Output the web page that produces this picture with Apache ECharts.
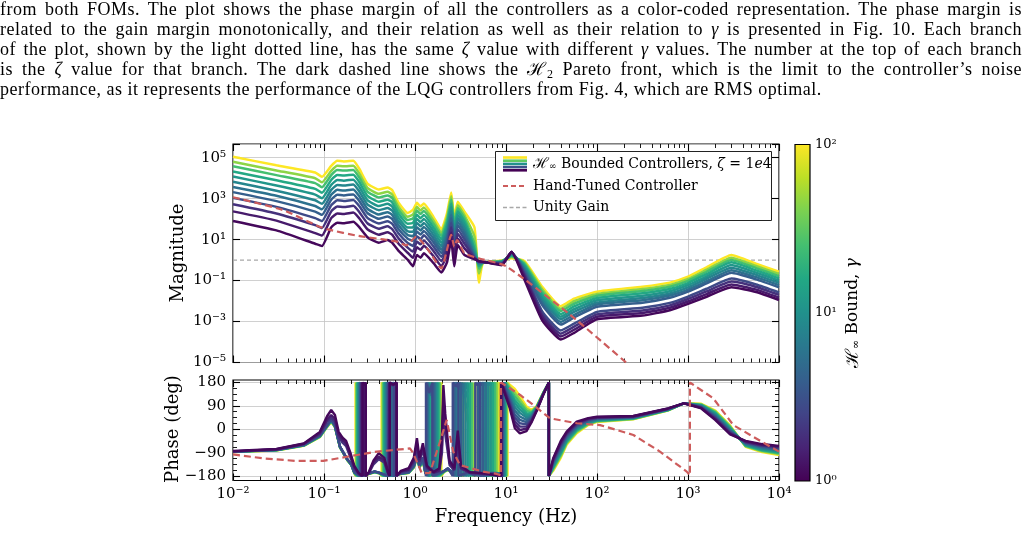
<!DOCTYPE html>
<html>
<head>
<meta charset="utf-8">
<script src="https://cdn.jsdelivr.net/npm/echarts@6.0.0/dist/echarts.min.js"></script>
<style>
html, body { margin: 0; padding: 0; background: #fff; }
#chart { position: absolute; left: 0; top: 0; width: 1028px; height: 533px; }
#para { position: absolute; left: 0; top: 0; width: 1022px; font-family: "Liberation Serif", serif; font-size: 18px; letter-spacing: 0.5px; line-height: 19.9px; color: #000; }
#para div { text-align: justify; text-align-last: justify; }
#para div.last { text-align-last: left; }
#para sub { font-size: 12px; line-height: 0; vertical-align: -3px; }
</style>
</head>
<body>
<div id="chart"></div>
<div id="para">
<div>from both FOMs. The plot shows the phase margin of all the controllers as a color-coded representation. The phase margin is</div>
<div>related to the gain margin monotonically, and their relation as well as their relation to <i>γ</i> is presented in Fig. 10. Each branch</div>
<div>of the plot, shown by the light dotted line, has the same <i>ζ</i> value with different <i>γ</i> values. The number at the top of each branch</div>
<div>is the <i>ζ</i> value for that branch. The dark dashed line shows the ℋ<sub>2</sub> Pareto front, which is the limit to the controller’s noise</div>
<div class="last">performance, as it represents the performance of the LQG controllers from Fig. 4, which are RMS optimal.</div>
</div>
<script>
// frequencies (Hz) where the magnitude curves were read
var freq = [0.01, 0.03, 0.08, 0.095, 0.12, 0.14, 0.165, 0.21, 0.245, 0.30, 0.40, 0.50, 0.56, 0.66, 0.83, 0.95, 1.05, 1.15, 1.25, 1.6, 1.95, 2.25, 2.5, 2.7, 2.95, 3.5, 4.5, 5.05, 5.6, 9, 11.5, 16, 25, 40, 56, 100, 316, 631, 1000, 1600, 3000, 5600, 10000];

// H-infinity bound of each controller
var gammas = [1.1, 1.4, 1.9, 2.8, 4, 5.5, 8, 11, 16, 25, 45, 100];

// magnitude, log10 |C|, one list per controller
var magG1_1 = [1.91,1.45,0.80,0.69,1.60,1.83,1.80,1.87,1.60,1.12,0.85,0.98,0.85,0.45,0.02,-0.30,0.25,0.12,0.33,-0.15,-0.60,-0.10,1.00,-0.30,0.74,0.25,0.05,-0.05,-0.08,-0.25,0.41,-0.97,-2.94,-3.88,-3.55,-2.89,-2.71,-2.45,-2.14,-1.79,-1.33,-1.56,-1.95];
var magG1_4 = [2.38,1.93,1.32,1.20,2.05,2.28,2.25,2.32,2.03,1.51,1.24,1.36,1.24,0.80,0.36,0.11,0.63,0.50,0.70,0.19,-0.29,0.26,1.35,0.06,1.06,0.57,0.08,-0.06,-0.08,-0.22,0.40,-0.83,-2.79,-3.73,-3.40,-2.77,-2.58,-2.33,-2.02,-1.66,-1.19,-1.44,-1.83];
var magG1_9 = [2.73,2.28,1.71,1.57,2.38,2.62,2.59,2.65,2.34,1.80,1.53,1.65,1.52,1.06,0.61,0.42,0.91,0.77,0.96,0.44,-0.05,0.52,1.60,0.32,1.29,0.80,0.10,-0.07,-0.09,-0.19,0.39,-0.73,-2.65,-3.59,-3.25,-2.65,-2.46,-2.21,-1.90,-1.53,-1.05,-1.31,-1.70];
var magG2_8 = [3.04,2.60,2.05,1.91,2.68,2.92,2.89,2.94,2.63,2.06,1.79,1.90,1.78,1.30,0.84,0.69,1.17,1.02,1.21,0.66,0.16,0.76,1.83,0.56,1.50,1.01,0.13,-0.08,-0.09,-0.17,0.38,-0.64,-2.50,-3.44,-3.10,-2.53,-2.33,-2.09,-1.78,-1.40,-0.90,-1.19,-1.58];
var magG4 = [3.32,2.88,2.37,2.21,2.95,3.19,3.16,3.21,2.88,2.30,2.02,2.13,2.01,1.51,1.05,0.94,1.40,1.25,1.42,0.86,0.35,0.98,2.04,0.78,1.69,1.20,0.17,-0.10,-0.10,-0.15,0.36,-0.56,-2.20,-3.15,-2.80,-2.28,-2.08,-1.84,-1.54,-1.14,-0.62,-0.94,-1.33];
var magG5_5 = [3.57,3.14,2.64,2.48,3.19,3.43,3.40,3.45,3.11,2.51,2.23,2.34,2.21,1.70,1.23,1.16,1.60,1.45,1.62,1.04,0.51,1.17,2.22,0.97,1.86,1.37,0.22,-0.13,-0.10,-0.13,0.34,-0.48,-2.07,-3.02,-2.67,-2.17,-1.96,-1.73,-1.44,-1.03,-0.49,-0.83,-1.22];
var magG8 = [3.83,3.39,2.92,2.75,3.43,3.67,3.64,3.69,3.34,2.72,2.44,2.54,2.42,1.88,1.41,1.38,1.81,1.65,1.81,1.22,0.68,1.36,2.40,1.16,2.03,1.54,0.30,-0.17,-0.11,-0.11,0.31,-0.41,-1.94,-2.89,-2.53,-2.07,-1.85,-1.63,-1.33,-0.91,-0.37,-0.72,-1.11];
var magG11 = [4.08,3.64,3.20,3.02,3.67,3.91,3.88,3.93,3.57,2.93,2.64,2.75,2.62,2.07,1.59,1.60,2.01,1.85,2.01,1.40,0.85,1.56,2.59,1.36,2.20,1.71,0.40,-0.22,-0.11,-0.09,0.28,-0.34,-1.81,-2.76,-2.40,-1.96,-1.74,-1.52,-1.22,-0.80,-0.24,-0.61,-1.00];
var magG16 = [4.33,3.90,3.48,3.29,3.91,4.16,4.13,4.17,3.80,3.14,2.85,2.95,2.83,2.26,1.78,1.82,2.21,2.05,2.20,1.58,1.02,1.75,2.77,1.55,2.37,1.88,0.55,-0.30,-0.12,-0.07,0.24,-0.26,-1.68,-2.63,-2.26,-1.85,-1.62,-1.41,-1.12,-0.68,-0.11,-0.50,-0.89];
var magG25 = [4.58,4.15,3.76,3.56,4.15,4.40,4.37,4.40,4.02,3.35,3.06,3.16,3.04,2.45,1.96,2.04,2.42,2.25,2.40,1.76,1.19,1.94,2.96,1.74,2.53,2.04,0.80,-0.42,-0.12,-0.05,0.20,-0.19,-1.55,-2.49,-2.13,-1.74,-1.51,-1.30,-1.01,-0.57,0.01,-0.39,-0.78];
var magG45 = [4.80,4.38,4.00,3.80,4.36,4.61,4.58,4.61,4.22,3.53,3.24,3.34,3.21,2.61,2.12,2.23,2.60,2.42,2.57,1.92,1.33,2.11,3.12,1.91,2.68,2.19,1.15,-0.65,-0.13,-0.04,0.15,-0.12,-1.43,-2.38,-2.01,-1.65,-1.41,-1.21,-0.92,-0.47,0.12,-0.29,-0.68];
var magG100 = [5.05,4.63,4.28,4.07,4.60,4.85,4.82,4.85,4.45,3.74,3.45,3.54,3.42,2.80,2.30,2.45,2.80,2.62,2.76,2.10,1.50,2.30,3.30,2.10,2.85,2.36,1.60,-1.10,-0.14,-0.02,0.09,-0.05,-1.30,-2.25,-1.88,-1.54,-1.30,-1.10,-0.81,-0.35,0.25,-0.18,-0.57];

// phase (deg) as [Hz, deg], wrapped to +-180
var phG1_1 = [[0.01,-84],[0.03,-76],[0.06,-55],[0.09,-10],[0.108,50],[0.12,74],[0.132,55],[0.145,-10],[0.16,-32],[0.175,-45],[0.195,-90],[0.215,-140],[0.24,-168],[0.266,-180],[0.266,180],[0.277,170],[0.288,180],[0.288,-180],[0.31,-165],[0.35,-120],[0.4,-92],[0.46,-110],[0.51,-170],[0.53,-180],[0.53,180],[0.58,172],[0.63,180],[0.63,-180],[0.7,-160],[0.85,-150],[0.97,-110],[1.05,-34],[1.12,-110],[1.22,-54],[1.35,-140],[1.6,-165],[1.85,-150],[1.98,-20],[2.05,170],[2.15,60],[2.4,-120],[2.7,-150],[2.95,-5],[3.2,-140],[4,-165],[6,-170],[8.8,-180],[8.8,180],[11,81],[12.5,4],[14.2,-16],[16.8,-7],[19,25],[21.6,68],[25.6,132],[29.6,180],[29.6,-180],[33,-112],[40,-45],[46.4,-9],[59.8,29],[80,43],[100,48],[250,51],[600,80],[900,100],[1400,80],[2000,35],[2900,-20],[4300,-45],[6500,-57],[10000,-64]];
var phG1_4 = [[0.01,-85],[0.03,-77],[0.06,-56],[0.09,-14],[0.108,38],[0.12,55],[0.132,40],[0.145,-20],[0.16,-42],[0.175,-55],[0.195,-100],[0.215,-145],[0.24,-170],[0.262,-180],[0.262,180],[0.273,170],[0.284,180],[0.284,-180],[0.31,-168],[0.35,-128],[0.4,-105],[0.46,-120],[0.51,-172],[0.525,-180],[0.525,180],[0.575,170],[0.625,180],[0.625,-180],[0.7,-162],[0.85,-155],[0.97,-118],[1.05,-55],[1.12,-118],[1.22,-68],[1.35,-145],[1.6,-167],[1.85,-158],[1.98,-60],[2.05,120],[2.15,20],[2.4,-130],[2.7,-155],[2.95,-40],[3.2,-148],[4,-167],[6,-172],[8.9,-180],[8.9,180],[11,89],[12.5,18],[14.2,-3],[16.8,2],[19,29],[21.6,70],[25.6,133],[29.6,180],[29.6,-180],[33,-116],[40,-51],[46.4,-14],[59.8,25],[80,41],[100,46],[250,50],[600,79],[900,100],[1400,82],[2000,38],[2900,-17],[4300,-47],[6500,-60],[10000,-67]];
var phG1_9 = [[0.01,-85],[0.03,-78],[0.06,-57],[0.09,-18],[0.108,30],[0.12,45],[0.132,30],[0.145,-30],[0.16,-52],[0.175,-65],[0.195,-108],[0.215,-150],[0.24,-172],[0.258,-180],[0.258,180],[0.269,168],[0.28,180],[0.28,-180],[0.31,-170],[0.35,-135],[0.4,-115],[0.46,-128],[0.51,-174],[0.52,-180],[0.52,180],[0.57,168],[0.62,180],[0.62,-180],[0.7,-164],[0.85,-158],[0.97,-125],[1.05,-70],[1.12,-125],[1.22,-80],[1.35,-150],[1.6,-168],[1.85,-162],[1.98,-90],[2.05,80],[2.15,-20],[2.4,-138],[2.7,-158],[2.95,-70],[3.2,-152],[4,-168],[6,-173],[9.0,-180],[9.0,180],[11,97],[12.5,31],[14.2,10],[16.8,10],[19,34],[21.6,72],[25.6,133],[29.6,180],[29.6,-180],[33,-121],[40,-57],[46.4,-18],[59.8,21],[80,38],[100,44],[250,49],[600,79],[900,100],[1400,83],[2000,42],[2900,-14],[4300,-49],[6500,-63],[10000,-70]];
var phG2_8 = [[0.01,-86],[0.03,-79],[0.06,-60],[0.09,-24],[0.108,15],[0.12,40],[0.132,15],[0.15,-67],[0.18,-115],[0.2,-135],[0.215,-165],[0.254,-180],[0.254,180],[0.262,172],[0.27,180],[0.27,-180],[0.3,-172],[0.36,-162],[0.41,-168],[0.51,-180],[0.51,180],[0.55,170],[0.59,180],[0.59,-180],[0.7,-170],[0.85,-165],[0.97,-140],[1.05,-95],[1.12,-140],[1.22,-108],[1.3,-165],[1.32,-180],[1.32,180],[1.43,140],[1.55,180],[1.55,-180],[2.1,-160],[2.3,-150],[2.6,-180],[2.6,180],[2.8,165],[3.0,180],[3.0,-180],[3.8,-165],[4.6,-180],[4.6,180],[4.9,170],[5.2,180],[5.2,-180],[7.0,-168],[9.1,-180],[9.1,180],[11,106],[12.5,45],[14.2,23],[16.8,19],[19,38],[21.6,73],[25.6,134],[29.6,180],[29.6,-180],[33,-125],[40,-63],[46.4,-23],[59.8,17],[80,36],[100,43],[250,47],[600,78],[900,100],[1400,85],[2000,45],[2900,-11],[4300,-51],[6500,-65],[10000,-73]];
var phG4 = [[0.01,-86],[0.03,-79],[0.06,-60],[0.09,-24],[0.108,15],[0.12,38],[0.132,14],[0.15,-67],[0.18,-115],[0.2,-135],[0.215,-165],[0.25,-180],[0.25,180],[0.258,172],[0.266,180],[0.266,-180],[0.3,-172],[0.36,-162],[0.41,-168],[0.5,-180],[0.5,180],[0.537,170],[0.575,180],[0.575,-180],[0.7,-170],[0.85,-165],[0.97,-140],[1.05,-97],[1.12,-140],[1.22,-110],[1.3,-165],[1.35,-180],[1.35,180],[1.47,140],[1.6,180],[1.6,-180],[2.1,-160],[2.3,-150],[2.7,-180],[2.7,180],[2.95,160],[3.2,180],[3.2,-180],[4.0,-165],[4.9,-180],[4.9,180],[5.25,170],[5.6,180],[5.6,-180],[7.3,-168],[9.25,-180],[9.25,180],[11,114],[12.5,58],[14.2,36],[16.8,27],[19,43],[21.6,75],[25.6,135],[29.6,180],[29.6,-180],[33,-129],[40,-68],[46.4,-27],[59.8,13],[80,33],[100,41],[250,46],[600,77],[900,100],[1400,86],[2000,48],[2900,-7],[4300,-53],[6500,-68],[10000,-77]];
var phG5_5 = [[0.01,-86],[0.03,-79],[0.06,-61],[0.09,-25],[0.108,14],[0.12,36],[0.132,13],[0.15,-68],[0.18,-116],[0.2,-136],[0.215,-166],[0.246,-180],[0.246,180],[0.254,172],[0.262,180],[0.262,-180],[0.3,-172],[0.36,-163],[0.41,-168],[0.49,-180],[0.49,180],[0.525,170],[0.56,180],[0.56,-180],[0.7,-170],[0.85,-166],[0.97,-142],[1.05,-100],[1.12,-142],[1.22,-112],[1.3,-166],[1.38,-180],[1.38,180],[1.5,130],[1.65,180],[1.65,-180],[2.1,-160],[2.3,-152],[2.8,-180],[2.8,180],[3.1,155],[3.4,180],[3.4,-180],[4.2,-165],[5.2,-180],[5.2,180],[5.6,170],[6.0,180],[6.0,-180],[7.6,-168],[9.4,-180],[9.4,180],[11,122],[12.5,72],[14.2,49],[16.8,36],[19,47],[21.6,77],[25.6,136],[29.6,180],[29.6,-180],[33,-134],[40,-74],[46.4,-32],[59.8,9],[80,31],[100,39],[250,45],[600,76],[900,100],[1400,88],[2000,52],[2900,-4],[4300,-55],[6500,-71],[10000,-80]];
var phG8 = [[0.01,-86],[0.03,-80],[0.06,-61],[0.09,-26],[0.108,13],[0.12,35],[0.132,12],[0.15,-68],[0.18,-116],[0.2,-137],[0.215,-166],[0.242,-180],[0.242,180],[0.25,172],[0.258,180],[0.258,-180],[0.3,-173],[0.36,-163],[0.41,-169],[0.48,-180],[0.48,180],[0.51,170],[0.545,180],[0.545,-180],[0.7,-171],[0.85,-166],[0.97,-143],[1.05,-102],[1.12,-143],[1.22,-114],[1.3,-166],[1.41,-180],[1.41,180],[1.55,120],[1.7,180],[1.7,-180],[2.1,-161],[2.3,-153],[2.9,-180],[2.9,180],[3.25,150],[3.6,180],[3.6,-180],[4.4,-166],[5.5,-180],[5.5,180],[5.95,170],[6.4,180],[6.4,-180],[7.9,-168],[9.55,-180],[9.55,180],[11,131],[12.5,87],[14.2,63],[16.8,45],[19,52],[21.6,79],[25.6,136],[29.6,180],[29.6,-180],[33,-138],[40,-81],[46.4,-37],[59.8,5],[80,28],[100,37],[250,44],[600,76],[900,100],[1400,90],[2000,55],[2900,-1],[4300,-58],[6500,-74],[10000,-83]];
var phG11 = [[0.01,-86],[0.03,-80],[0.06,-62],[0.09,-27],[0.108,12],[0.12,34],[0.132,11],[0.15,-69],[0.18,-117],[0.2,-137],[0.215,-167],[0.238,-180],[0.238,180],[0.245,172],[0.253,180],[0.253,-180],[0.3,-173],[0.36,-164],[0.41,-169],[0.47,-180],[0.47,180],[0.5,170],[0.53,180],[0.53,-180],[0.7,-171],[0.85,-167],[0.97,-144],[1.05,-104],[1.12,-144],[1.22,-116],[1.3,-167],[1.44,-180],[1.44,180],[1.6,110],[1.75,180],[1.75,-180],[2.1,-161],[2.3,-154],[3.0,-180],[3.0,180],[3.4,140],[3.8,180],[3.8,-180],[4.6,-166],[5.8,-180],[5.8,180],[6.3,170],[6.8,180],[6.8,-180],[8.2,-169],[9.7,-180],[9.7,180],[11,139],[12.5,101],[14.2,76],[16.8,54],[19,56],[21.6,81],[25.6,137],[29.6,180],[29.6,-180],[33,-143],[40,-87],[46.4,-42],[59.8,1],[80,26],[100,35],[250,43],[600,75],[900,100],[1400,92],[2000,59],[2900,2],[4300,-60],[6500,-77],[10000,-86]];
var phG16 = [[0.01,-87],[0.03,-80],[0.06,-62],[0.09,-28],[0.108,11],[0.12,33],[0.132,10],[0.15,-69],[0.18,-117],[0.2,-138],[0.215,-167],[0.234,-180],[0.234,180],[0.241,172],[0.248,180],[0.248,-180],[0.3,-173],[0.36,-164],[0.41,-170],[0.46,-180],[0.46,180],[0.487,170],[0.515,180],[0.515,-180],[0.7,-172],[0.85,-167],[0.97,-145],[1.05,-106],[1.12,-145],[1.22,-118],[1.3,-167],[1.47,-180],[1.47,180],[1.63,110],[1.8,180],[1.8,-180],[2.1,-162],[2.3,-155],[3.1,-180],[3.1,180],[3.3,150],[3.55,120],[3.8,150],[4.0,180],[4.0,-180],[4.8,-166],[6.1,-180],[6.1,180],[6.65,170],[7.2,180],[7.2,-180],[8.5,-169],[9.85,-180],[9.85,180],[11,147],[12.5,114],[14.2,89],[16.8,62],[19,61],[21.6,83],[25.6,138],[29.6,180],[29.6,-180],[33,-147],[40,-92],[46.4,-46],[59.8,-3],[80,23],[100,33],[250,42],[600,74],[900,100],[1400,93],[2000,62],[2900,6],[4300,-62],[6500,-80],[10000,-90]];
var phG25 = [[0.01,-87],[0.03,-81],[0.06,-63],[0.09,-29],[0.108,10],[0.12,32],[0.132,9],[0.15,-70],[0.18,-118],[0.2,-138],[0.215,-168],[0.23,-180],[0.23,180],[0.236,172],[0.243,180],[0.243,-180],[0.3,-174],[0.36,-165],[0.41,-170],[0.45,-180],[0.45,180],[0.475,170],[0.5,180],[0.5,-180],[0.7,-172],[0.85,-168],[0.97,-146],[1.05,-108],[1.12,-146],[1.22,-120],[1.3,-168],[1.5,-180],[1.5,180],[1.67,120],[1.85,180],[1.85,-180],[2.1,-162],[2.3,-156],[3.2,-180],[3.2,180],[3.45,120],[3.7,80],[3.95,120],[4.2,180],[4.2,-180],[5.0,-167],[6.4,-180],[6.4,180],[7.0,170],[7.6,180],[7.6,-180],[8.8,-170],[10,-180],[10,180],[11,156],[12.5,128],[14.2,102],[16.8,71],[19,65],[21.6,84],[25.6,139],[29.6,180],[29.6,-180],[33,-151],[40,-98],[46.4,-51],[59.8,-7],[80,21],[100,32],[250,40],[600,73],[900,100],[1400,95],[2000,65],[2900,9],[4300,-64],[6500,-82],[10000,-93]];
var phG45 = [[0.01,-87],[0.03,-81],[0.06,-63],[0.09,-30],[0.108,9],[0.12,30],[0.132,8],[0.15,-70],[0.18,-118],[0.2,-139],[0.215,-168],[0.226,-180],[0.226,180],[0.232,172],[0.238,180],[0.238,-180],[0.3,-174],[0.36,-165],[0.41,-171],[0.44,-180],[0.44,180],[0.462,170],[0.485,180],[0.485,-180],[0.7,-173],[0.85,-168],[0.97,-147],[1.05,-110],[1.12,-147],[1.22,-122],[1.3,-168],[1.53,-180],[1.53,180],[1.7,135],[1.9,180],[1.9,-180],[2.1,-163],[2.3,-157],[3.3,-180],[3.3,180],[3.55,80],[3.85,20],[4.15,80],[4.4,180],[4.4,-180],[5.2,-167],[6.7,-180],[6.7,180],[7.35,170],[8.0,180],[8.0,-180],[9.1,-170],[10.2,-180],[10.2,180],[11,164],[12.5,141],[14.2,115],[16.8,79],[19,70],[21.6,86],[25.6,139],[29.6,180],[29.6,-180],[33,-156],[40,-104],[46.4,-55],[59.8,-11],[80,18],[100,30],[250,39],[600,73],[900,100],[1400,96],[2000,69],[2900,12],[4300,-66],[6500,-85],[10000,-96]];
var phG100 = [[0.01,-88],[0.03,-82],[0.06,-64],[0.09,-31],[0.108,8],[0.12,28],[0.132,7],[0.15,-71],[0.18,-119],[0.2,-139],[0.215,-169],[0.222,-180],[0.222,180],[0.227,172],[0.232,180],[0.232,-180],[0.3,-175],[0.36,-166],[0.41,-171],[0.43,-180],[0.43,180],[0.45,170],[0.47,180],[0.47,-180],[0.7,-173],[0.85,-169],[0.97,-148],[1.05,-112],[1.12,-148],[1.22,-124],[1.3,-169],[1.56,-180],[1.56,180],[1.75,145],[1.95,180],[1.95,-180],[2.1,-163],[2.3,-158],[3.4,-180],[3.4,180],[3.7,60],[4.0,-10],[4.3,60],[4.6,180],[4.6,-180],[5.4,-168],[7.0,-180],[7.0,180],[7.7,170],[8.4,180],[8.4,-180],[9.4,-171],[10.4,-180],[10.4,180],[11,172],[12.5,155],[14.2,128],[16.8,88],[19,74],[21.6,88],[25.6,140],[29.6,180],[29.6,-180],[33,-160],[40,-110],[46.4,-60],[59.8,-15],[80,16],[100,28],[250,38],[600,72],[900,100],[1400,98],[2000,72],[2900,15],[4300,-68],[6500,-88],[10000,-99]];

// hand-tuned controller
var handMag = [[0.01,3.07],[0.035,2.45],[0.085,1.67],[0.11,1.5],[0.24,1.18],[0.45,1.01],[0.63,0.9],[0.8,0.72],[1.03,1.14],[1.4,0.49],[1.95,-0.4],[2.2,0.35],[2.5,1.23],[2.7,0.65],[2.9,0.98],[3.5,0.33],[5,0.09],[10,-0.3],[50,-2.65],[250,-5.3]];
var handPhase = [[0.01,-97],[0.0214,-112],[0.05,-122],[0.098,-122],[0.178,-106],[0.38,-86],[0.88,-74],[0.95,-90],[1.19,-170],[1.46,-168],[1.88,-48],[2.23,36],[2.63,-86],[3.12,-138],[5.6,-163],[7.9,-172],[8.8,-178],[8.8,180],[14.3,132],[20,93],[30.5,42],[60,23],[108,16],[251,-22],[492,-86],[968,-163],[1050,-178],[1050,180],[1897,119],[3148,16],[5224,-29],[10000,-86]];
var unityGain = [[0.01, 0], [10000, 0]];

var magCurves = [magG1_1, magG1_4, magG1_9, magG2_8, magG4, magG5_5, magG8, magG11, magG16, magG25, magG45, magG100];
var phaseCurves = [phG1_1, phG1_4, phG1_9, phG2_8, phG4, phG5_5, phG8, phG11, phG16, phG25, phG45, phG100];

var VIR = ['#440154','#482475','#414487','#355f8d','#2a788e','#21918c','#22a884','#44bf70','#7ad151','#bddf26','#fde725'];
function hexRgb(h) { return [parseInt(h.substr(1,2),16), parseInt(h.substr(3,2),16), parseInt(h.substr(5,2),16)]; }
function viridis(t) {
    var p = Math.max(0, Math.min(1, t)) * 10;
    var i = Math.min(9, Math.floor(p)), f = p - i;
    var a = hexRgb(VIR[i]), b = hexRgb(VIR[i + 1]);
    return 'rgb(' + a.map(function (v, j) { return Math.round(v + (b[j] - v) * f); }).join(',') + ')';
}

var SUP = {'-':'⁻','0':'⁰','1':'¹','2':'²','3':'³','4':'⁴','5':'⁵','6':'⁶','7':'⁷','8':'⁸','9':'⁹'};
function pow10Label(e) { return '10' + String(e).split('').map(function (c) { return SUP[c]; }).join(''); }

var SERIF = 'DejaVu Serif';
var tickStyle = {show: true, inside: true, length: 7, lineStyle: {color: '#000', width: 1.1}};
var minorStyle = {show: true, splitNumber: 9, length: 4, lineStyle: {color: '#000', width: 0.9}};
var gridLine = {show: true, lineStyle: {color: '#c4c4c4', width: 0.8}};

var dom = document.getElementById('chart');
var myChart = echarts.init(dom, null, {renderer: 'canvas'});

var series = [];
series.push({
    type: 'line', xAxisIndex: 0, yAxisIndex: 0, data: unityGain,
    symbol: 'none', silent: true,
    lineStyle: {color: '#a8a8a8', width: 1.3, type: [4, 3]}
});
for (var k = magCurves.length - 1; k >= 0; k--) {
    var col = viridis(Math.log10(gammas[k]) / 2);
    series.push({
        type: 'line', xAxisIndex: 0, yAxisIndex: 0, symbol: 'none', silent: true, smooth: 0.15,
        data: freq.map(function (f, i) { return [f, magCurves[k][i]]; }),
        lineStyle: {color: col, width: 2.5}
    });
    series.push({
        type: 'line', xAxisIndex: 2, yAxisIndex: 2, symbol: 'none', silent: true,
        data: phaseCurves[k],
        lineStyle: {color: col, width: 2.4}
    });
}
series.push({
    type: 'line', xAxisIndex: 0, yAxisIndex: 0, symbol: 'none', silent: true, smooth: 0.2,
    data: handMag, lineStyle: {color: '#cd5c5c', width: 2.2, type: [7, 4]}
});
series.push({
    type: 'line', xAxisIndex: 2, yAxisIndex: 2, symbol: 'none', silent: true,
    data: handPhase, lineStyle: {color: '#cd5c5c', width: 2.2, type: [7, 4]}
});

function logX(grid, pos, opts) {
    return Object.assign({
        type: 'log', logBase: 10, gridIndex: grid, position: pos, min: 0.01, max: 10000,
        axisLine: {show: false, onZero: false}, axisTick: tickStyle, minorTick: minorStyle,
        axisLabel: {show: false}, splitLine: {show: false}
    }, opts || {});
}

var option = {
    animation: false,
    grid: [
        {left: 233, top: 144, width: 546, height: 218.5, show: true, borderColor: '#000', borderWidth: 1.2, backgroundColor: 'transparent', containLabel: false, outerBoundsMode: 'none'},
        {left: 233, top: 382.5, width: 546, height: 93.5, show: false, containLabel: false, outerBoundsMode: 'none'},
        {left: 233, top: 380, width: 546, height: 100.5, show: true, borderColor: '#000', borderWidth: 1.2, backgroundColor: 'transparent', containLabel: false, outerBoundsMode: 'none'}
    ],
    xAxis: [
        logX(0, 'bottom', {splitLine: gridLine}),
        logX(0, 'top'),
        logX(1, 'bottom', {show: false}),
        logX(2, 'bottom', {
            splitLine: gridLine,
            axisLabel: {show: true, margin: 6, color: '#000', fontFamily: SERIF, fontSize: 15,
                formatter: function (v) { return pow10Label(Math.round(Math.log10(v))); }}
        }),
        logX(2, 'top')
    ],
    yAxis: [
        {type: 'value', gridIndex: 0, position: 'left', min: -5, max: 5.67, interval: 2,
            axisLine: {show: false, onZero: false}, axisTick: tickStyle, splitLine: gridLine,
            axisLabel: {margin: 7, color: '#000', fontFamily: SERIF, fontSize: 15,
                formatter: function (v) { return Math.abs(v - Math.round(v)) < 1e-6 ? pow10Label(Math.round(v)) : ''; }}},
        {type: 'value', gridIndex: 0, position: 'right', min: -5, max: 5.67, interval: 2,
            axisLine: {show: false, onZero: false}, axisTick: tickStyle, splitLine: {show: false}, axisLabel: {show: false}},
        {type: 'value', gridIndex: 1, position: 'left', min: -180, max: 180, interval: 90,
            axisLine: {show: false, onZero: false}, axisTick: tickStyle, splitLine: gridLine,
            minorTick: {show: true, splitNumber: 4, length: 4, lineStyle: {color: '#000', width: 0.9}},
            axisLabel: {margin: 7, color: '#000', fontFamily: SERIF, fontSize: 15,
                formatter: function (v) { return v < 0 ? '\u2212' + Math.abs(v) : String(v); }}},
        {type: 'value', gridIndex: 1, position: 'right', min: -180, max: 180, interval: 90,
            axisLine: {show: false, onZero: false}, axisTick: tickStyle, splitLine: {show: false}, axisLabel: {show: false},
            minorTick: {show: true, splitNumber: 4, length: 4, lineStyle: {color: '#000', width: 0.9}}},
        {type: 'value', gridIndex: 2, min: 0, max: 1, show: false}
    ],
    graphic: [
        // axis titles
        {type: 'text', x: 178, y: 253, rotation: Math.PI / 2,
            style: {text: 'Magnitude', fill: '#000', fontFamily: SERIF, fontSize: 18, align: 'center', verticalAlign: 'middle'}},
        {type: 'text', x: 173, y: 429, rotation: Math.PI / 2,
            style: {text: 'Phase (deg)', fill: '#000', fontFamily: SERIF, fontSize: 18, align: 'center', verticalAlign: 'middle'}},
        {type: 'text', x: 506, y: 517,
            style: {text: 'Frequency (Hz)', fill: '#000', fontFamily: SERIF, fontSize: 18, align: 'center', verticalAlign: 'middle'}},
        // legend
        {type: 'rect', z: 100, shape: {x: 495.5, y: 151.5, width: 276, height: 69},
            style: {fill: '#fff', stroke: '#222', lineWidth: 1}},
        {type: 'line', z: 101, shape: {x1: 503, y1: 157.5, x2: 527, y2: 157.5}, style: {stroke: '#fde725', lineWidth: 2.6}},
        {type: 'line', z: 101, shape: {x1: 503, y1: 160.7, x2: 527, y2: 160.7}, style: {stroke: '#5ec962', lineWidth: 2.6}},
        {type: 'line', z: 101, shape: {x1: 503, y1: 163.9, x2: 527, y2: 163.9}, style: {stroke: '#21918c', lineWidth: 2.6}},
        {type: 'line', z: 101, shape: {x1: 503, y1: 167.1, x2: 527, y2: 167.1}, style: {stroke: '#3b528b', lineWidth: 2.6}},
        {type: 'line', z: 101, shape: {x1: 503, y1: 170.3, x2: 527, y2: 170.3}, style: {stroke: '#440154', lineWidth: 2.6}},
        {type: 'text', z: 101, x: 533, y: 164,
            style: {text: '{h|ℋ}{s|∞} Bounded Controllers, {i|ζ} = 1{i|e}4', fill: '#000', fontFamily: SERIF, fontSize: 14, verticalAlign: 'middle',
                rich: {
                    h: {fontFamily: SERIF, fontSize: 15, fill: '#000'},
                    s: {fontFamily: SERIF, fontSize: 9, fill: '#000', verticalAlign: 'bottom'},
                    i: {fontFamily: SERIF, fontSize: 14, fontStyle: 'italic', fill: '#000'}
                }}},
        {type: 'line', z: 101, shape: {x1: 503, y1: 186, x2: 527, y2: 186}, style: {stroke: '#cd5c5c', lineWidth: 2, lineDash: [5, 3]}},
        {type: 'text', z: 101, x: 533, y: 186,
            style: {text: 'Hand-Tuned Controller', fill: '#000', fontFamily: SERIF, fontSize: 14, verticalAlign: 'middle'}},
        {type: 'line', z: 101, shape: {x1: 503, y1: 207.5, x2: 527, y2: 207.5}, style: {stroke: '#a8a8a8', lineWidth: 1.6, lineDash: [4, 2.5]}},
        {type: 'text', z: 101, x: 533, y: 207.5,
            style: {text: 'Unity Gain', fill: '#000', fontFamily: SERIF, fontSize: 14, verticalAlign: 'middle'}},
        // colorbar
        {type: 'rect', shape: {x: 795, y: 144.5, width: 15, height: 336.5},
            style: {
                stroke: '#000', lineWidth: 1.2,
                fill: new echarts.graphic.LinearGradient(0, 1, 0, 0, VIR.map(function (c, i) { return {offset: i / 10, color: c}; }))
            }},
        {type: 'text', x: 815, y: 145, style: {text: pow10Label(2), fill: '#000', fontFamily: SERIF, fontSize: 13, verticalAlign: 'middle'}},
        {type: 'text', x: 815, y: 313, style: {text: pow10Label(1), fill: '#000', fontFamily: SERIF, fontSize: 13, verticalAlign: 'middle'}},
        {type: 'text', x: 815, y: 481, style: {text: pow10Label(0), fill: '#000', fontFamily: SERIF, fontSize: 13, verticalAlign: 'middle'}},
        {type: 'text', x: 853, y: 313, rotation: Math.PI / 2,
            style: {text: '{h|ℋ}{s|∞} Bound, {i|γ}', fill: '#000', fontFamily: SERIF, fontSize: 17, align: 'center', verticalAlign: 'middle',
                rich: {
                    h: {fontFamily: SERIF, fontSize: 18, fill: '#000'},
                    s: {fontFamily: SERIF, fontSize: 11, fill: '#000', verticalAlign: 'bottom'},
                    i: {fontFamily: SERIF, fontSize: 17, fontStyle: 'italic', fill: '#000'}
                }}}
    ],
    series: series
};

if (option && typeof option === 'object') {
    myChart.setOption(option);
}
</script>
</body>
</html>
